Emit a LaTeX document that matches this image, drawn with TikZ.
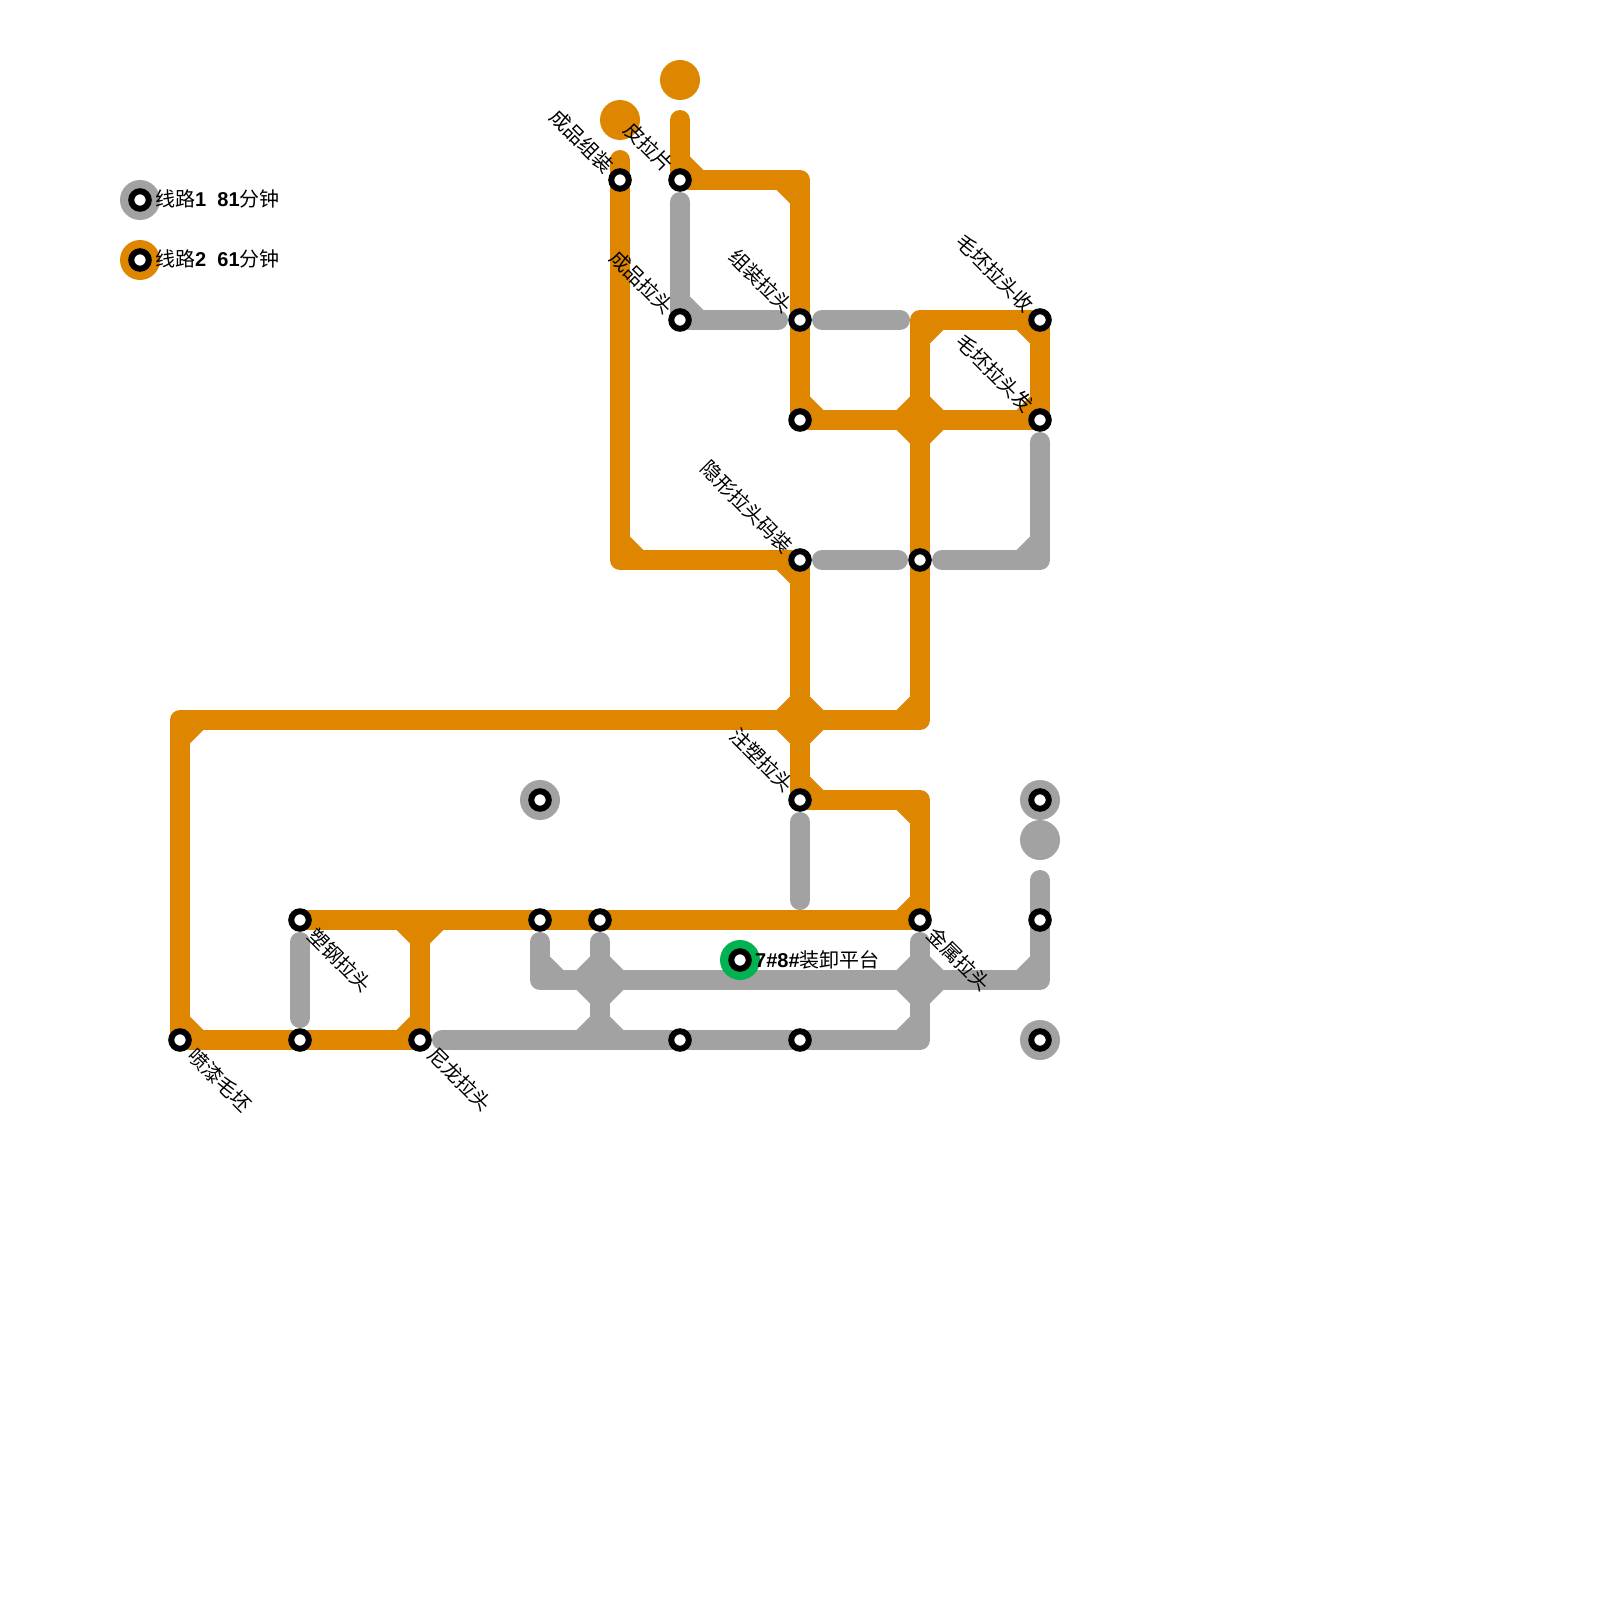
\documentclass[tikz,border=0pt]{standalone}
\usepackage{fontspec}
\setmainfont{Liberation Sans}
\newfontfamily\cjk{Noto Sans CJK SC}
\definecolor{lineorange}{HTML}{DF8600}
\definecolor{linegray}{HTML}{A2A2A2}
\definecolor{linegreen}{HTML}{00B251}
\tikzset{
  routeline/.style={line width=20pt, line cap=round, line join=round},
  station/.style={circle, draw=black, fill=white, line width=6pt, minimum size=17.5pt, inner sep=0pt},
  halo/.style={circle, minimum size=40pt, inner sep=0pt},
  slabel/.style={font=\fontsize{20}{20}\cjk, rotate=-45, inner sep=0pt},
  legendlabel/.style={font=\fontsize{20}{20}\selectfont, anchor=west, inner sep=0pt}
}
\begin{document}
\begin{tikzpicture}[x=1pt, y=-1pt]
  \useasboundingbox (0,0) rectangle (1600,1600);
  % 站点
  \coordinate (chengpinzz) at (620,180);
  \coordinate (pilapian) at (680,180);
  \coordinate (chengpinlt) at (680,320);
  \coordinate (zuzhuang) at (800,320);
  \coordinate (huizhuan) at (800,420);
  \coordinate (maopishou) at (1040,320);
  \coordinate (maopifa) at (1040,420);
  \coordinate (yinxing) at (800,560);
  \coordinate (zhongjian) at (920,560);
  \coordinate (zhusu) at (800,800);
  \coordinate (jinshu) at (920,920);
  \coordinate (sugang) at (300,920);
  \coordinate (pentu) at (180,1040);
  \coordinate (xiafang) at (300,1040);
  \coordinate (nilong) at (420,1040);
  \coordinate (zhong1) at (540,920);
  \coordinate (zhong2) at (600,920);
  \coordinate (di1) at (680,1040);
  \coordinate (di2) at (800,1040);
  \coordinate (you1) at (1040,920);
  % 线路1
  \draw[routeline, linegray] (680,202) -- (chengpinlt) -- (778,320);
  \draw[routeline, linegray] (822,320) -- (900,320);
  \draw[routeline, linegray] (822,560) -- (898,560);
  \draw[routeline, linegray] (1040,442) -- (1040,560) -- (942,560);
  \draw[routeline, linegray] (800,822) -- (800,900);
  \draw[routeline, linegray] (300,942) -- (300,1018);
  \draw[routeline, linegray] (1040,880) -- (you1) -- (1040,980) -- (540,980) -- (540,942);
  \draw[routeline, linegray] (600,942) -- (600,1040);
  \draw[routeline, linegray] (442,1040) -- (di1) -- (di2) -- (920,1040) -- (920,942);
  \foreach \cx/\cy/\sx/\sy in {680/320/1/-1, 1040/560/-1/-1, 1040/980/-1/-1, 540/980/1/-1,
      600/980/1/-1, 600/980/-1/-1, 600/980/1/1, 600/980/-1/1, 600/1040/1/-1, 600/1040/-1/-1,
      920/980/1/-1, 920/980/-1/-1, 920/980/1/1, 920/980/-1/1, 920/1040/-1/-1}
    \fill[linegray] (\cx+\sx*10,\cy+\sy*10) -- ++(\sx*13.33,0) -- ++(-\sx*13.33,\sy*13.33) -- cycle;
  % 线路2
  \draw[routeline, lineorange] (620,160) -- (chengpinzz) -- (620,560) -- (yinxing) -- (zhusu)
    -- (920,800) -- (jinshu) -- (sugang);
  \draw[routeline, lineorange] (680,120) -- (pilapian) -- (800,180) -- (huizhuan) -- (maopifa)
    -- (maopishou) -- (920,320) -- (920,720) -- (180,720) -- (pentu) -- (nilong) -- (420,920);
  \foreach \cx/\cy/\sx/\sy in {620/560/1/-1, 800/560/-1/1, 800/800/1/-1, 920/800/-1/1, 920/920/-1/-1,
      680/180/1/-1, 800/180/-1/1, 800/420/1/-1, 1040/420/-1/-1, 1040/320/-1/1, 920/320/1/1,
      920/420/1/-1, 920/420/-1/-1, 920/420/1/1, 920/420/-1/1, 920/720/-1/-1,
      800/720/1/-1, 800/720/-1/-1, 800/720/1/1, 800/720/-1/1, 180/720/1/1, 180/1040/1/-1,
      420/1040/-1/-1, 420/920/1/1, 420/920/-1/1}
    \fill[lineorange] (\cx+\sx*10,\cy+\sy*10) -- ++(\sx*13.33,0) -- ++(-\sx*13.33,\sy*13.33) -- cycle;
  % 圆点
  \node[halo, fill=lineorange] (topa) at (680,80) {};
  \node[halo, fill=lineorange] (topb) at (620,120) {};
  \node[halo, fill=linegray] (leftdot) at (540,800) {};
  \node[halo, fill=linegray] (rightdota) at (1040,800) {};
  \node[halo, fill=linegray] (rightdotb) at (1040,840) {};
  \node[halo, fill=linegray] (rightdotc) at (1040,1040) {};
  \node[halo, fill=linegreen] (greendot) at (740,960) {};
  \node[halo, fill=linegray] (legenddota) at (140,200) {};
  \node[halo, fill=lineorange] (legenddotb) at (140,260) {};
  % 站点圆环
  \foreach \s in {chengpinzz, pilapian, chengpinlt, zuzhuang, huizhuan, maopishou, maopifa, yinxing,
      zhongjian, zhusu, jinshu, sugang, pentu, xiafang, nilong, zhong1, zhong2, di1, di2, you1}
    \node[station] at (\s) {};
  \node[station] at (leftdot) {};
  \node[station] at (rightdota) {};
  \node[station] at (rightdotc) {};
  \node[station] at (greendot) {};
  \node[station] at (legenddota) {};
  \node[station] at (legenddotb) {};
  % 标签
  \node[slabel] (lchengpinzz) at (582,141) {成品组装};
  \node[slabel] (lpilapian) at (649,147) {皮拉片};
  \node[slabel] (lchengpinlt) at (642,282) {成品拉头};
  \node[slabel] (lzuzhuang) at (761,281) {组装拉头};
  \node[slabel] (lmaopishou) at (995,273) {毛坯拉头收};
  \node[slabel] (lmaopifa) at (995,373) {毛坯拉头发};
  \node[slabel] (lyinxing) at (747,507) {隐形拉头码装};
  \node[slabel] (lzhusu) at (762,760) {注塑拉头};
  \node[slabel] (ljinshu) at (959,959) {金属拉头};
  \node[slabel] (lsugang) at (340,960) {塑钢拉头};
  \node[slabel] (lpentu) at (220,1080) {喷漆毛坯};
  \node[slabel] (lnilong) at (460,1079) {尼龙拉头};
  \node[legendlabel] (lgreen) at (755,960) {\textbf{7\#8\#}{\cjk 装卸平台}};
  \node[legendlabel] (llegenda) at (155,199) {{\cjk 线路}\textbf{1\ \ 81}{\cjk 分钟}};
  \node[legendlabel] (llegendb) at (155,259) {{\cjk 线路}\textbf{2\ \ 61}{\cjk 分钟}};
\end{tikzpicture}
\end{document}
